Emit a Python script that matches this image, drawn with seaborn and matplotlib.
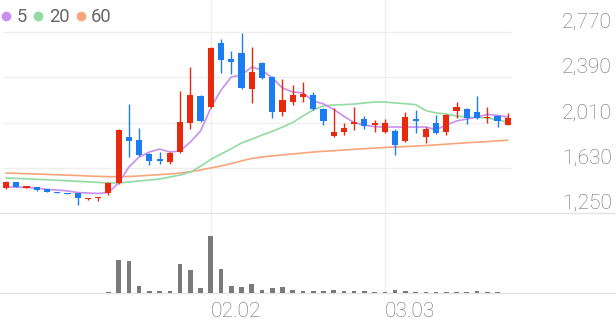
import matplotlib
matplotlib.use('Agg')
import matplotlib.pyplot as plt
import matplotlib.transforms as mtransforms
from matplotlib.lines import Line2D
import seaborn as sns
import pandas as pd
import numpy as np

# ---------------- data ----------------
opens = [1460, 1510, 1464, 1468, 1452, 1426, 1418, 1418, 1368, 1376,
         1418, 1502, 1888, 1863, 1745, 1703, 1678, 1762, 2006, 2233,
         2140, 2678, 2543, 2594, 2291, 2510, 2392, 2098, 2182, 2224,
         2241, 2123, 1897, 1930, 1997, 2039, 1989, 1930, 1939, 1855,
         2039, 1888, 2006, 1930, 2107, 2123, 2098, 2048, 2065, 1989]
closes = [1510, 1468, 1477, 1443, 1426, 1418, 1410, 1376, 1376, 1384,
          1502, 1947, 1855, 1737, 1687, 1687, 1754, 2014, 2241, 2023,
          2636, 2535, 2518, 2300, 2434, 2384, 2098, 2199, 2241, 2249,
          2123, 2023, 1930, 1964, 2014, 1981, 2006, 2006, 1821, 2056,
          2023, 1955, 1922, 2073, 2140, 2048, 2048, 2056, 2023, 2048]
highs = [1515, 1512, 1480, 1470, 1454, 1428, 1420, 1420, 1380, 1386,
         1510, 1955, 2165, 1964, 1754, 1762, 1762, 2275, 2476, 2240,
         2645, 2711, 2610, 2762, 2644, 2520, 2400, 2375, 2325, 2350,
         2266, 2130, 2132, 2006, 2140, 2065, 2031, 2039, 1955, 2098,
         2115, 1972, 2073, 2080, 2182, 2130, 2233, 2140, 2070, 2090]
lows = [1455, 1466, 1460, 1435, 1424, 1416, 1408, 1317, 1362, 1351,
        1400, 1494, 1720, 1730, 1653, 1661, 1661, 1754, 1955, 2015,
        2132, 2426, 2417, 2295, 2174, 2375, 2048, 2065, 2157, 2182,
        2115, 1989, 1890, 1905, 1947, 1955, 1930, 1922, 1737, 1846,
        1922, 1838, 1915, 1905, 2048, 1997, 2040, 2006, 1972, 1985]
volumes = [4000, 4000, 4000, 4000, 4000, 4000, 4000, 5000, 5000, 5000,
           10000, 330000, 320000, 70000, 20000, 20000, 20000, 290000, 230000, 50000,
           570000, 240000, 70000, 60000, 90000, 30000, 50000, 60000, 30000, 25000,
           20000, 23000, 30000, 20000, 20000, 20000, 13000, 15000, 27000, 20000,
           13000, 13000, 13000, 13000, 13000, 13000, 20000, 13000, 13000, 5000]
ma5 = [1468, 1468, 1464, 1460, 1448, 1443, 1435, 1422, 1418, 1414,
       1422, 1502, 1636, 1720, 1762, 1787, 1762, 1771, 1846, 1939,
       2132, 2283, 2392, 2409, 2476, 2451, 2384, 2300, 2266, 2258,
       2190, 2167, 2120, 2062, 2008, 1989, 1975, 1972, 1972, 1972,
       1972, 1972, 1950, 1989, 2023, 2039, 2056, 2078, 2070, 2056]
ma20 = [1544, 1541, 1537, 1533, 1529, 1525, 1521, 1516, 1512, 1507,
        1502, 1502, 1510, 1519, 1527, 1535, 1552, 1569, 1594, 1642,
        1700, 1745, 1790, 1838, 1870, 1905, 1935, 1972, 2010, 2065,
        2115, 2149, 2157, 2160, 2165, 2174, 2182, 2182, 2174, 2168,
        2160, 2110, 2090, 2081, 2065, 2056, 2052, 2048, 2031, 2014]
ma60 = [1586, 1583, 1580, 1577, 1574, 1571, 1568, 1565, 1561, 1558,
        1555, 1555, 1557, 1561, 1567, 1572, 1578, 1586, 1597, 1611,
        1628, 1645, 1665, 1688, 1708, 1720, 1730, 1738, 1746, 1754,
        1762, 1768, 1773, 1779, 1785, 1790, 1795, 1800, 1804, 1808,
        1812, 1817, 1822, 1828, 1834, 1840, 1845, 1850, 1856, 1862]
ma_labels = ['5', '20', '60']
y_ticks = [1250, 1630, 2010, 2390, 2770]
y_tick_labels = ['1,250', '1,630', '2,010', '2,390', '2,770']
date_idx = [20, 37]
date_labels = ['02.02', '03.03']

# ---------------- style ----------------
UP = '#e8290e'
DOWN = '#1c7cf2'
MA_COLORS = ['#c98ff0', '#92dba3', '#f8a57d']
GRID = '#efefef'
TEXT = '#6e6e6e'

sns.set_style('white')
plt.rcParams['font.family'] = ['Roboto', 'DejaVu Sans']

W, H = 616, 321
fig = plt.figure(figsize=(W / 100, H / 100), dpi=100)
ax = fig.add_axes([0, (H - 213) / H, 1, 213 / H])
axv = fig.add_axes([0, (H - 293) / H, 1, 79 / H])

n = len(closes)
df = pd.DataFrame({'idx': np.arange(n), 'open': opens, 'close': closes,
                   'high': highs, 'low': lows, 'vol': volumes,
                   'ma5': ma5, 'ma20': ma20, 'ma60': ma60})
df['up'] = df['close'] >= df['open']
colors = np.where(df['up'], UP, DOWN)

# grid lines
for v in y_ticks[1:]:
    ax.axhline(v, xmin=3 / W, xmax=511 / W, color=GRID, lw=1, zorder=0)
for xi in date_idx:
    ax.axvline(xi, color=GRID, lw=1, zorder=0)
    axv.axvline(xi, color=GRID, lw=1, zorder=0)

# moving averages
for col, c in zip(['ma60', 'ma20', 'ma5'], MA_COLORS[::-1]):
    sns.lineplot(data=df, x='idx', y=col, color=c, lw=1.2, ax=ax,
                 legend=False, zorder=2)

# candles
ax.vlines(df['idx'], df['low'], df['high'], colors=colors, lw=1.0, zorder=3)
body_bottom = np.minimum(df['open'], df['close'])
body_h = np.maximum(np.abs(df['close'] - df['open']), 12)
ax.bar(df['idx'], body_h, bottom=body_bottom, width=0.6, color=colors,
       linewidth=0, zorder=4)

# volume
axv.bar(df['idx'], df['vol'], width=0.45, color='#7a7a7a', linewidth=0, zorder=3)

# axes limits
xlim = (-6 / 10.24, (W - 6) / 10.24)
ax.set_xlim(*xlim)
axv.set_xlim(*xlim)
ax.set_ylim(1250, 2770 + 32 * (1520 / 181))
axv.set_ylim(0, 790000)

for a in (ax, axv):
    for s in ('top', 'left', 'right'):
        a.spines[s].set_visible(False)
    a.spines['bottom'].set_color('#e4e4e4')
    a.spines['bottom'].set_linewidth(1)
    a.set_xlabel('')
    a.set_ylabel('')
    a.set_yticks([])
    a.patch.set_alpha(0)

ax.set_xticks([])
axv.set_xticks(date_idx)
axv.set_xticklabels(date_labels, fontsize=15.1, color=TEXT, fontweight='light')
axv.tick_params(axis='x', length=0, pad=6.5)
for lbl in axv.get_xticklabels():
    lbl.set_ha('left')

# price labels
trans = mtransforms.blended_transform_factory(ax.transAxes, ax.transData)
for v, lbl in zip(y_ticks, y_tick_labels):
    ax.text(612 / W, v, lbl, transform=trans, ha='right', va='bottom',
            fontsize=15.1, color=TEXT, fontweight='light')

# legend
handles = [Line2D([], [], marker='o', ls='', color=c, markersize=7,
                  markeredgewidth=0) for c in MA_COLORS]
fig.legend(handles, ma_labels, loc='upper left', bbox_to_anchor=(0, 1 - 8 / H),
           ncol=3, frameon=False, fontsize=13.2, handlelength=0.65,
           handletextpad=0.25, columnspacing=0.3, borderpad=0,
           borderaxespad=0, labelcolor='#666666')

fig.savefig('out.png', dpi=100)
